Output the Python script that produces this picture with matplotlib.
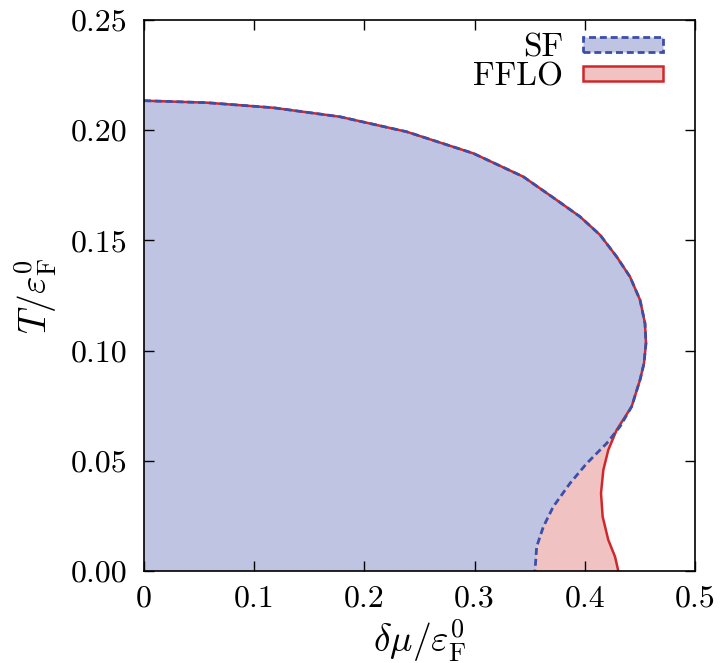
import matplotlib
matplotlib.use("Agg")
import matplotlib.pyplot as plt
from matplotlib.patches import Patch

plt.rcParams['font.family'] = ['cmr10', 'DejaVu Serif']
plt.rcParams['mathtext.fontset'] = 'cm'
plt.rcParams['axes.formatter.use_mathtext'] = True

# upper branch shared by both boundaries
top_mu = [0.0, 0.0569, 0.1173, 0.1779, 0.2384, 0.2988, 0.3442, 0.3745,
          0.3956, 0.4138, 0.4289, 0.4410, 0.4501, 0.4546, 0.4555, 0.4537,
          0.4501, 0.4425, 0.4319]
top_T = [0.2134, 0.2125, 0.2102, 0.2061, 0.1993, 0.1895, 0.1789, 0.1683,
         0.1608, 0.1525, 0.1426, 0.1335, 0.1230, 0.1124, 0.1033, 0.0942,
         0.0867, 0.0746, 0.0655]

# SF lower branch down to T = 0
sf_low_mu = [0.4198, 0.4017, 0.3866, 0.3714, 0.3624, 0.3563, 0.3548]
sf_low_T = [0.0579, 0.0488, 0.0398, 0.0292, 0.0201, 0.0110, 0.0]

# FFLO lower branch down to T = 0
fflo_low_mu = [0.4289, 0.4213, 0.4168, 0.4147, 0.4162, 0.4213, 0.4274, 0.4304]
fflo_low_T = [0.0640, 0.0549, 0.0458, 0.0353, 0.0246, 0.0141, 0.0065, 0.0]

sf_mu = top_mu + sf_low_mu
sf_T = top_T + sf_low_T
fflo_mu = top_mu[:-1] + fflo_low_mu
fflo_T = top_T[:-1] + fflo_low_T

x_ticks = [0, 0.1, 0.2, 0.3, 0.4, 0.5]
x_labels = ['0', '0.1', '0.2', '0.3', '0.4', '0.5']
y_ticks = [0.0, 0.05, 0.10, 0.15, 0.20, 0.25]
y_labels = ['0.00', '0.05', '0.10', '0.15', '0.20', '0.25']

sf_fill, sf_line = '#c0c4e3', '#3b4fa8'
fflo_fill, fflo_line = '#f0c2c2', '#d0282a'

fig = plt.figure(figsize=(7.2, 6.63), dpi=100)
ax = fig.add_axes([0.2, 0.1388, 0.7653, 0.831])

# FFLO region first, SF region on top
ax.fill([0] + fflo_mu, [0] + fflo_T, color=fflo_fill, lw=0)
ax.plot(fflo_mu, fflo_T, color=fflo_line, lw=1.8, solid_joinstyle='round')
ax.fill([0] + sf_mu, [0] + sf_T, color=sf_fill, lw=0)
ax.plot(sf_mu, sf_T, color=sf_line, lw=2.0, dashes=(2.5, 1.4))

ax.set_xlim(0, 0.5)
ax.set_ylim(0, 0.25)
ax.set_xticks(x_ticks)
ax.set_xticklabels(x_labels)
ax.set_yticks(y_ticks)
ax.set_yticklabels(y_labels)
ax.tick_params(direction='in', length=7, width=1, top=True, right=True,
               labelsize=23)
ax.tick_params(axis='x', pad=10)
ax.tick_params(axis='y', pad=12)
for s in ax.spines.values():
    s.set_linewidth(1.2)

ax.set_xlabel(r'$\delta\mu/\varepsilon_{\mathrm{F}}^{0}$', fontsize=27, labelpad=4)
ax.set_ylabel(r'$T/\varepsilon_{\mathrm{F}}^{0}$', fontsize=27, labelpad=8)

handles = [Patch(facecolor=sf_fill, edgecolor=sf_line, linestyle=(0, (2.5, 1.4)), lw=2.0),
           Patch(facecolor=fflo_fill, edgecolor=fflo_line, lw=1.8)]
ax.legend(handles, ['SF', 'FFLO'], loc='upper right', bbox_to_anchor=(0.996, 1.03),
          frameon=False, markerfirst=False, fontsize=24, handlelength=2.4,
          handleheight=0.35, labelspacing=0.0, handletextpad=0.6)

fig.savefig('out.png', dpi=100)
